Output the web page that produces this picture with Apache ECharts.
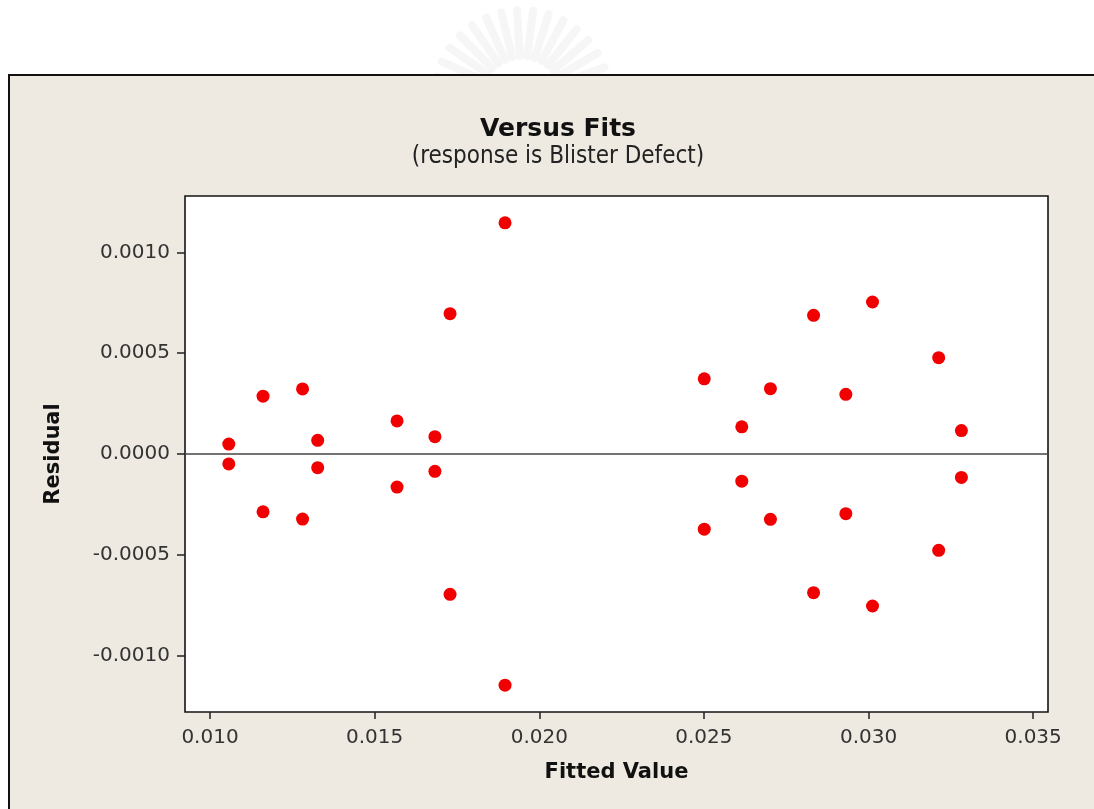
<!DOCTYPE html>
<html>
<head>
<meta charset="utf-8">
<title>Versus Fits</title>
<script src="https://cdn.jsdelivr.net/npm/echarts@6/dist/echarts.min.js"></script>
<style>
  html, body { margin: 0; padding: 0; background: #ffffff; }
  #chart { width: 1094px; height: 809px; }
</style>
</head>
<body>
<div id="chart"></div>
<script>
// Fitted values and their residuals (response: Blister Defect)
const fittedValues = [
  0.01057, 0.01057, 0.01161, 0.01161, 0.01281, 0.01281, 0.01327, 0.01327,
  0.01568, 0.01568, 0.01683, 0.01683, 0.01729, 0.01729, 0.01896, 0.01896,
  0.02501, 0.02501, 0.02615, 0.02615, 0.02702, 0.02702, 0.02833, 0.02833,
  0.02931, 0.02931, 0.03012, 0.03012, 0.03213, 0.03213, 0.03282, 0.03282
];
const residuals = [
  0.000049, -0.000049, 0.000287, -0.000287, 0.000323, -0.000323, 0.000068, -0.000068,
  0.000164, -0.000164, 0.000086, -0.000086, 0.000696, -0.000696, 0.001147, -0.001147,
  0.000373, -0.000373, 0.000135, -0.000135, 0.000324, -0.000324, 0.000688, -0.000688,
  0.000296, -0.000296, 0.000754, -0.000754, 0.000478, -0.000478, 0.000116, -0.000116
];
const xTicks = [0.010, 0.015, 0.020, 0.025, 0.030, 0.035];
const yTicks = [-0.0010, -0.0005, 0.0000, 0.0005, 0.0010];

const points = fittedValues.map((x, i) => [x, residuals[i]]);

const FONT = '"DejaVu Sans", Verdana, sans-serif';
const FONT_NARROW = '"DejaVu Sans Condensed", "DejaVu Sans", sans-serif';

// faint radiating emblem above the frame
const rays = [];
const cx = 522, cy = 98;
for (let k = 0; k < 15; k++) {
  const a = (166 - k * 10.4) * Math.PI / 180;
  rays.push({
    type: 'line',
    z: -20,
    silent: true,
    shape: {
      x1: cx + Math.cos(a) * 42, y1: cy - Math.sin(a) * 42,
      x2: cx + Math.cos(a) * 88, y2: cy - Math.sin(a) * 88
    },
    style: { stroke: '#f6f6f6', lineWidth: 8, lineCap: 'round' }
  });
}

const chart = echarts.init(document.getElementById('chart'), null, { renderer: 'canvas' });

chart.setOption({
  backgroundColor: '#ffffff',
  animation: false,
  graphic: [
    ...rays,
    {
      type: 'rect',
      z: -10,
      silent: true,
      shape: { x: 9, y: 75, width: 1100, height: 760 },
      style: { fill: '#eeeae1', stroke: '#111111', lineWidth: 2 }
    }
  ],
  title: {
    text: 'Versus Fits',
    subtext: '(response is Blister Defect)',
    left: 553,
    textAlign: 'center',
    top: 112,
    itemGap: 3,
    textStyle: { fontFamily: FONT, fontWeight: 'bold', fontSize: 25, color: '#111111' },
    subtextStyle: { fontFamily: FONT_NARROW, fontSize: 24, color: '#222222' }
  },
  grid: {
    left: 185,
    top: 196,
    right: 46,
    bottom: 97,
    show: true,
    backgroundColor: '#ffffff',
    borderColor: '#151515',
    borderWidth: 1.6
  },
  xAxis: {
    type: 'value',
    min: 0.00924,
    max: 0.03545,
    name: 'Fitted Value',
    nameLocation: 'middle',
    nameGap: 50,
    nameTextStyle: { fontFamily: FONT, fontWeight: 'bold', fontSize: 21, color: '#111111' },
    axisLine: { show: false, onZero: false },
    splitLine: { show: false },
    axisTick: {
      show: true, inside: false, length: 7,
      customValues: xTicks,
      lineStyle: { color: '#222222', width: 1.5 }
    },
    axisLabel: {
      customValues: xTicks,
      margin: 16,
      fontFamily: FONT, fontSize: 20, color: '#333333',
      formatter: v => v.toFixed(3)
    }
  },
  yAxis: {
    type: 'value',
    min: -0.00128,
    max: 0.00128,
    name: 'Residual',
    nameLocation: 'middle',
    nameGap: 121,
    nameRotate: 90,
    nameTextStyle: { fontFamily: FONT, fontWeight: 'bold', fontSize: 21, color: '#111111' },
    axisLine: { show: false, onZero: false },
    splitLine: { show: false },
    axisTick: {
      show: true, inside: false, length: 8,
      customValues: yTicks,
      lineStyle: { color: '#222222', width: 1.5 }
    },
    axisLabel: {
      customValues: yTicks,
      margin: 15,
      fontFamily: FONT, fontSize: 20, color: '#333333',
      formatter: v => v.toFixed(4)
    }
  },
  series: [
    {
      type: 'scatter',
      data: points,
      symbol: 'circle',
      symbolSize: 13,
      itemStyle: { color: '#f00000', opacity: 1 },
      emphasis: { disabled: true },
      markLine: {
        silent: true,
        symbol: 'none',
        label: { show: false },
        lineStyle: { color: '#444444', width: 1.5, type: 'solid' },
        data: [{ yAxis: 0 }]
      },
      z: 3
    }
  ]
});
</script>
</body>
</html>
